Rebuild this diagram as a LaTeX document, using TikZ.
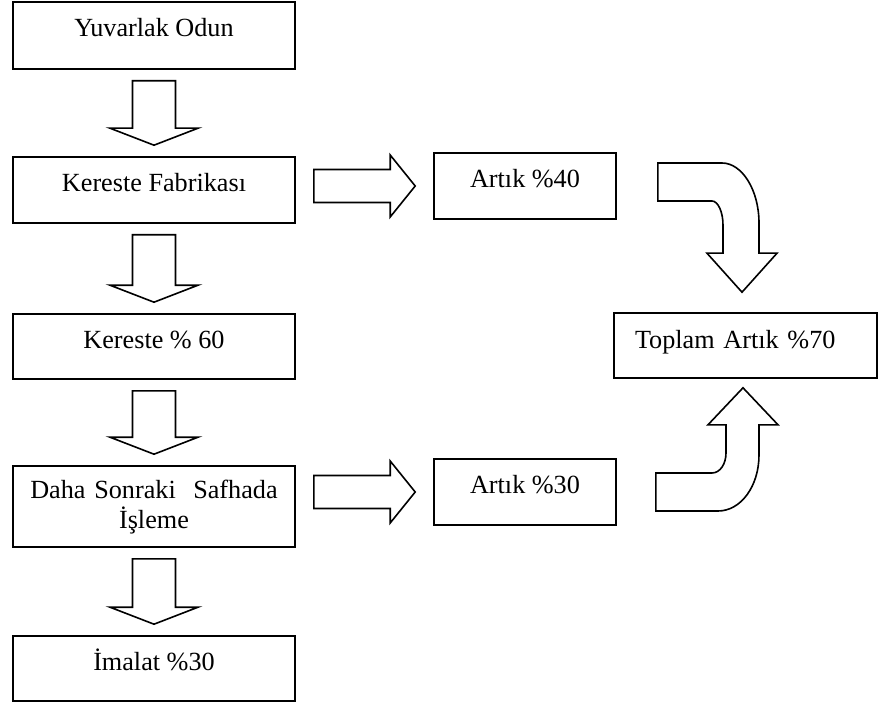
\documentclass[tikz,border=0pt]{standalone}
\usepackage{fontspec}
\setmainfont{Liberation Serif}
\usetikzlibrary{calc}

\begin{document}
\begin{tikzpicture}[
  x=0.5pt,y=-0.5pt,line width=0.8pt,line join=miter,
  font=\fontsize{13.1}{15}\selectfont,
  box/.style 2 args={rectangle,draw=black,minimum width=#1,minimum height=#2,
              inner sep=3pt,text height=9pt,text depth=7.5pt,align=center},
  dar/.style={to path={let \p1=($(\tikztostart.south)+(0,11)$),
              \p2=($(\tikztotarget.north)+(0,-11)$) in
              (\x1-10.75pt,\y1) -- (\x1+10.75pt,\y1) -- (\x1+10.75pt,\y2+8.5pt)
              -- (\x1+22pt,\y2+8.5pt) -- (\x1,\y2) -- (\x1-22pt,\y2+8.5pt)
              -- (\x1-10.75pt,\y2+8.5pt) -- cycle}},
  rar/.style={to path={let \p1=($(\tikztostart.east)+(18,0)$),
              \p2=($(\tikztotarget.west)+(-18,0)$) in
              (\x1,\y2+8.25pt) -- (\x2-12.5pt,\y2+8.25pt) -- (\x2-12.5pt,\y2+15.5pt)
              -- (\x2,\y2) -- (\x2-12.5pt,\y2-15.5pt) -- (\x2-12.5pt,\y2-8.25pt)
              -- (\x1,\y2-8.25pt) -- cycle}},
  bendin/.style={to path={let \p1=($(\tikztostart.east)+(41,-23)$),
              \p2=($(\tikztotarget.north)+(-3.5,-20)$) in
              (\x1,\y1) -- (\x2-10pt,\y1)
              .. controls (\x2,\y1) and (\x2+8.5pt,\y1-13.5pt) .. (\x2+8.5pt,\y1-30pt)
              -- (\x2+8.5pt,\y2+19.5pt) -- (\x2+17.5pt,\y2+19.5pt) -- (\x2,\y2)
              -- (\x2-17.5pt,\y2+19.5pt) -- (\x2-9.5pt,\y2+19.5pt) -- (\x2-9.5pt,\y1-31pt)
              .. controls (\x2-9.5pt,\y1-24.5pt) and (\x2-12pt,\y1-19pt) .. (\x2-15pt,\y1-19pt)
              -- (\x1,\y1-19pt) -- cycle}},
  bendup/.style={to path={let \p1=($(\tikztostart.east)+(39,19)$),
              \p2=($(\tikztotarget.south)+(-2.5,9)$) in
              (\x1,\y1) -- (\x2-12.5pt,\y1)
              .. controls (\x2-1pt,\y1) and (\x2+8pt,\y1+12.5pt) .. (\x2+8pt,\y1+28pt)
              -- (\x2+8pt,\y2-18.5pt) -- (\x2+17.5pt,\y2-18.5pt) -- (\x2,\y2)
              -- (\x2-17.5pt,\y2-18.5pt) -- (\x2-8.5pt,\y2-18.5pt) -- (\x2-8.5pt,\y1+29pt)
              .. controls (\x2-8.5pt,\y1+23.5pt) and (\x2-11.5pt,\y1+19pt) .. (\x2-15.5pt,\y1+19pt)
              -- (\x1,\y1+19pt) -- cycle}}
]
\path[fill=white] (0,0) rectangle (890,706);
\useasboundingbox (0,0) rectangle (890,706);

%======================= LEFT COLUMN =======================
\node[box={141pt}{33.5pt}] (yo) at (154,35.5) {Yuvarlak Odun};
\node[box={141pt}{33pt}] (kf) at (154,190) {Kereste Fabrikası};
\node[box={141pt}{32.5pt}] (k60) at (154,346.5) {Kereste \% 60};
\node[box={141pt}{40.5pt},text width=135pt,text depth=17.5pt] (ds) at (154,506.5)
  {Daha Sonraki\ \ Safhada\\İşleme};
\node[box={141pt}{32.5pt}] (im) at (154,668.5) {İmalat \%30};

%======================= RESIDUES =======================
\node[box={91pt}{33pt}] (a40) at (525,186) {Artık \%40};
\node[box={91pt}{33pt}] (a30) at (525,492) {Artık \%30};
\node[box={131.5pt}{32.5pt},text width=110.5pt,inner xsep=10.5pt,align=left,
      text depth=5.5pt] (tp) at (745.5,345.5) {Toplam Artık \%70};

%======================= BLOCK ARROWS =======================
\draw[dar] (yo) to (kf);
\draw[dar] (kf) to (k60);
\draw[dar] (k60) to (ds);
\draw[dar] (ds) to (im);
\draw[rar] (kf) to (a40);
\draw[rar] (ds) to (a30);
\draw[bendin] (a40) to (tp);
\draw[bendup] (a30) to (tp);

\end{tikzpicture}
\end{document}
